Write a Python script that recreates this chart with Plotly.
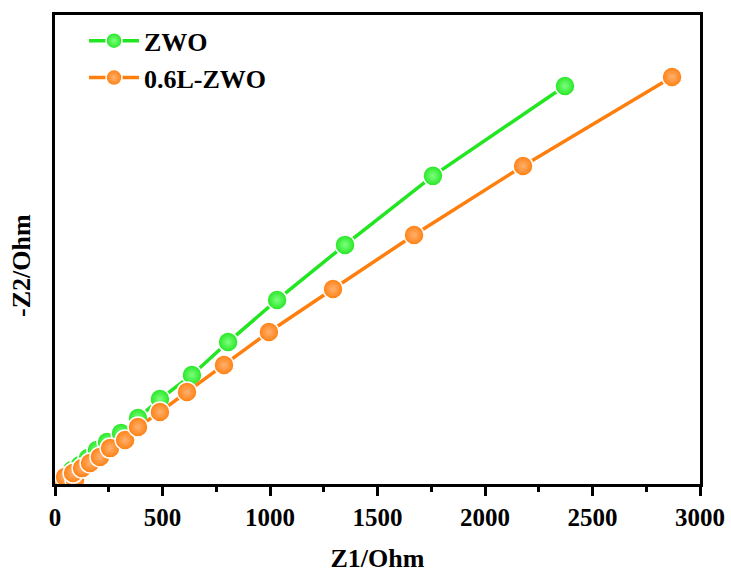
import plotly.graph_objects as go

# Nyquist data (Ohm)
zwo_z1 = [5, 14, 47, 79, 116, 153, 195, 242, 307, 386, 488, 637, 805, 1033, 1349, 1758, 2372]
zwo_z2 = [9, 19, 37, 65, 88, 121, 158, 195, 237, 307, 395, 507, 660, 856, 1112, 1433, 1851]

l06_z1 = [9, 23, 47, 60, 84, 93, 126, 163, 209, 256, 326, 386, 488, 614, 786, 995, 1293, 1670, 2177, 2870]
l06_z2 = [5, 14, 33, 9, 51, 19, 74, 98, 126, 167, 205, 265, 335, 428, 553, 707, 907, 1158, 1479, 1893]

x_ticks = [0, 500, 1000, 1500, 2000, 2500, 3000]

green = "#22E622"
orange = "#FF7F0E"

fig = go.Figure()
for name, xs, ys, col, grad in [
    ("ZWO", zwo_z1, zwo_z2, green, "#7DFF7D"),
    ("0.6L-ZWO", l06_z1, l06_z2, orange, "#FFB070"),
]:
    pts = sorted(zip(xs, ys), key=lambda p: p[0] + p[1])
    fig.add_trace(go.Scatter(
        x=[p[0] for p in pts], y=[p[1] for p in pts], name=name, mode="lines+markers",
        line=dict(color=col, width=3.5),
        marker=dict(size=20, color=col,
                    gradient=dict(type="radial", color=grad),
                    line=dict(color="white", width=1.5)),
    ))

font = "Liberation Serif, Times New Roman, serif"
fig.update_layout(
    width=731, height=573,
    margin=dict(l=55, r=31, t=15, b=89),
    paper_bgcolor="white", plot_bgcolor="white",
    font=dict(family=font, color="black", size=20),
    showlegend=True,
    legend=dict(x=0.045, y=0.995, xanchor="left", yanchor="top",
                bgcolor="rgba(0,0,0,0)", font=dict(size=26, family=font, weight="bold"),
                itemwidth=50, tracegroupgap=0),
    xaxis=dict(range=[0, 3000], tickvals=x_ticks, ticktext=[str(v) for v in x_ticks],
               automargin=False,
               ticks="outside", ticklen=9, tickwidth=3, tickcolor="black",
               minor=dict(dtick=250, ticks="outside", ticklen=5, tickwidth=2.5, tickcolor="black"),
               showline=True, linewidth=3, linecolor="black", mirror=True,
               showgrid=False, zeroline=False,
               tickfont=dict(size=25, family=font, weight="bold"),
               title=dict(text="Z1/Ohm", font=dict(size=26, family=font, weight="bold"), standoff=24)),
    yaxis=dict(range=[0, 2181], showticklabels=False, ticks="", automargin=False,
               showline=True, linewidth=3, linecolor="black", mirror=True,
               showgrid=False, zeroline=False),
    annotations=[dict(text="-Z2/Ohm", xref="paper", yref="paper", x=-0.051, y=0.465,
                      xanchor="center", yanchor="middle", textangle=-90, showarrow=False,
                      font=dict(size=26, family=font, weight="bold"))],
)

fig.write_html("out.html")
